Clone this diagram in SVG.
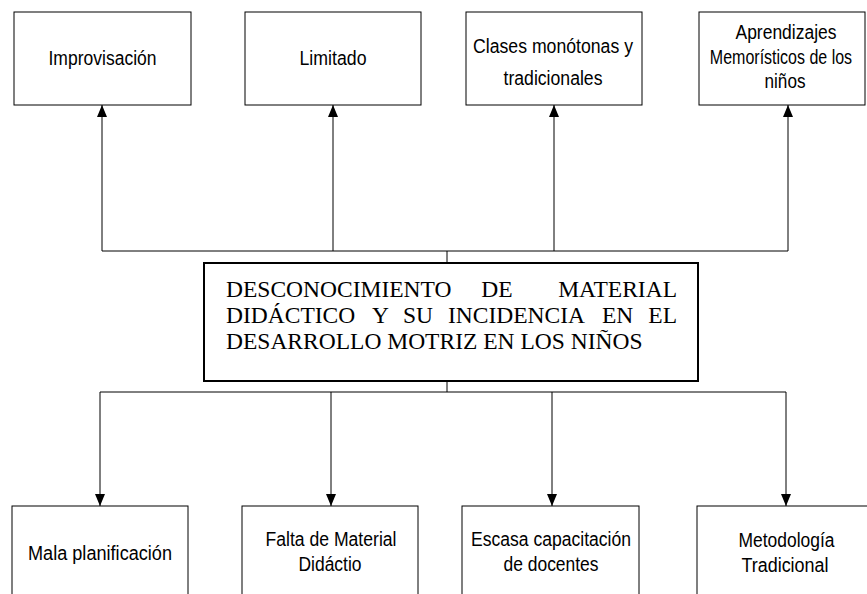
<svg xmlns="http://www.w3.org/2000/svg" width="867" height="594" viewBox="0 0 867 594">
<style>
.box{fill:#fff;stroke:#000;stroke-width:1}
.main{fill:#fff;stroke:#000;stroke-width:2}
.t{font-family:"Liberation Sans",Arial,sans-serif;font-size:20px;fill:#000;text-anchor:middle}
.m{font-family:"Liberation Serif","Times New Roman",serif;font-size:23.5px;fill:#000}
.c{fill:none;stroke:#000;stroke-width:1}
</style>
<defs>
<marker id="ah" markerUnits="userSpaceOnUse" viewBox="0 0 12 10" refX="12" refY="5" markerWidth="12" markerHeight="10" orient="auto">
<path d="M0,0 L12,5 L0,10 z" fill="#000"/>
</marker>
</defs>
<rect width="867" height="594" fill="#fff"/>
<g id="connectors">
<path class="c" d="M102,251 H788"/>
<path class="c" d="M447,251 V263"/>
<path class="c" d="M102,251 V105" marker-end="url(#ah)"/>
<path class="c" d="M333,251 V105" marker-end="url(#ah)"/>
<path class="c" d="M554,251 V105" marker-end="url(#ah)"/>
<path class="c" d="M788,251 V105" marker-end="url(#ah)"/>
<path class="c" d="M447,381 V392"/>
<path class="c" d="M100,392 H786"/>
<path class="c" d="M100,392 V506" marker-end="url(#ah)"/>
<path class="c" d="M331,392 V506" marker-end="url(#ah)"/>
<path class="c" d="M552,392 V506" marker-end="url(#ah)"/>
<path class="c" d="M786,392 V506" marker-end="url(#ah)"/>
</g>
<g id="n-improvisacion">
<rect class="box" x="14" y="12" width="177" height="93"/>
<text class="t" x="102.5" y="65" textLength="108" lengthAdjust="spacingAndGlyphs">Improvisación</text>
</g>
<g id="n-limitado">
<rect class="box" x="245" y="12" width="176" height="93"/>
<text class="t" x="333" y="65" textLength="67" lengthAdjust="spacingAndGlyphs">Limitado</text>
</g>
<g id="n-clases">
<rect class="box" x="466" y="12" width="176" height="93"/>
<text class="t" x="553" y="53" textLength="160" lengthAdjust="spacingAndGlyphs">Clases monótonas y</text>
<text class="t" x="553" y="85" textLength="99" lengthAdjust="spacingAndGlyphs">tradicionales</text>
</g>
<g id="n-aprendizajes">
<rect class="box" x="699" y="12" width="166" height="93"/>
<text class="t" x="786" y="39" textLength="101" lengthAdjust="spacingAndGlyphs">Aprendizajes</text>
<text class="t" x="0" y="64" transform="translate(781 0) scale(0.8 1)">Memorísticos de los</text>
<text class="t" x="785" y="88" textLength="41" lengthAdjust="spacingAndGlyphs">niños</text>
</g>
<g id="n-central">
<rect class="main" x="204" y="263" width="494" height="118"/>
<text class="m" y="297"><tspan x="226">DESCONOCIMIENTO</tspan><tspan x="497" text-anchor="middle">DE</tspan><tspan x="677" text-anchor="end">MATERIAL</tspan></text>
<text class="m" y="323"><tspan x="226">DIDÁCTICO</tspan><tspan x="372">Y</tspan><tspan x="403">SU</tspan><tspan x="448">INCIDENCIA</tspan><tspan x="602">EN</tspan><tspan x="677" text-anchor="end">EL</tspan></text>
<text class="m" y="349"><tspan x="226">DESARROLLO MOTRIZ EN LOS NIÑOS</tspan></text>
</g>
<g id="n-mala">
<rect class="box" x="12" y="506" width="176" height="100"/>
<text class="t" x="100" y="560" textLength="144" lengthAdjust="spacingAndGlyphs">Mala planificación</text>
</g>
<g id="n-falta">
<rect class="box" x="242" y="506" width="176" height="100"/>
<text class="t" x="331" y="546" textLength="131" lengthAdjust="spacingAndGlyphs">Falta de Material</text>
<text class="t" x="330" y="571" textLength="63" lengthAdjust="spacingAndGlyphs">Didáctio</text>
</g>
<g id="n-escasa">
<rect class="box" x="462" y="506" width="177" height="100"/>
<text class="t" x="551" y="546" textLength="160" lengthAdjust="spacingAndGlyphs">Escasa capacitación</text>
<text class="t" x="551" y="571" textLength="95" lengthAdjust="spacingAndGlyphs">de docentes</text>
</g>
<g id="n-metodologia">
<rect class="box" x="697" y="506" width="178" height="100"/>
<text class="t" x="786.5" y="547" textLength="96" lengthAdjust="spacingAndGlyphs">Metodología</text>
<text class="t" x="785" y="572" textLength="87" lengthAdjust="spacingAndGlyphs">Tradicional</text>
</g>
</svg>
